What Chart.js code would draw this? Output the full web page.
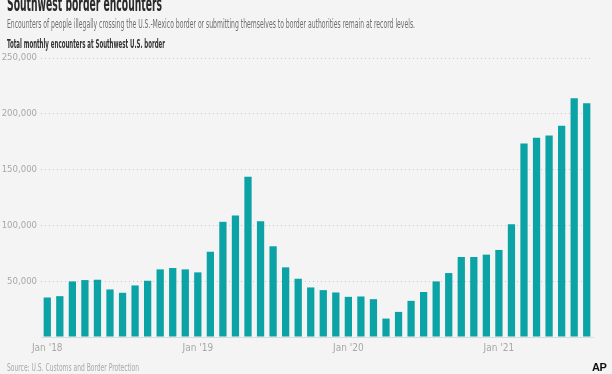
<!DOCTYPE html>
<html>
<head>
<meta charset="utf-8">
<script src="https://cdn.jsdelivr.net/npm/chart.js@4/dist/chart.umd.min.js"></script>
<style>
  html, body { margin: 0; padding: 0; background: #f4f4f4; }
  body { width: 612px; height: 374px; position: relative; overflow: hidden;
         font-family: 'Liberation Sans Narrow', 'DejaVu Sans Condensed', sans-serif; }
  #wrap { position: absolute; left: 0; top: 0; width: 612px; height: 374px; }
  .t { position: absolute; white-space: nowrap; transform-origin: 0 0; line-height: 1; }
  #title { left: 7px; top: -7px; font-size: 22px; font-weight: bold; color: #2a2a2a; }
  #sub { left: 7px; top: 18px; font-size: 12.5px; color: #6e6e6e; }
  #lab { left: 7px; top: 39px; font-size: 11.5px; font-weight: bold; color: #333; }
  #src { left: 7px; top: 363px; font-size: 10px; color: #a8a8a8; }
  #ap { left: 592px; top: 362px; font-size: 11px; font-weight: bold; color: #111;
        font-family: 'Liberation Sans', Arial, sans-serif; letter-spacing: -0.5px; }
</style>
</head>
<body>
<div id="wrap"><canvas id="c" width="612" height="374"></canvas></div>
<div class="t" id="title" data-w="155">Southwest border encounters</div>
<div class="t" id="sub" data-w="408">Encounters of people illegally crossing the U.S.-Mexico border or submitting themselves to border authorities remain at record levels.</div>
<div class="t" id="lab" data-w="158">Total monthly encounters at Southwest U.S. border</div>
<div class="t" id="src" data-w="132">Source: U.S. Customs and Border Protection</div>
<div class="t" id="ap">AP</div>
<script>
// Months: Jan 2018 .. Aug 2021
const months = [
  "Jan '18","Feb '18","Mar '18","Apr '18","May '18","Jun '18","Jul '18","Aug '18","Sep '18","Oct '18","Nov '18","Dec '18",
  "Jan '19","Feb '19","Mar '19","Apr '19","May '19","Jun '19","Jul '19","Aug '19","Sep '19","Oct '19","Nov '19","Dec '19",
  "Jan '20","Feb '20","Mar '20","Apr '20","May '20","Jun '20","Jul '20","Aug '20","Sep '20","Oct '20","Nov '20","Dec '20",
  "Jan '21","Feb '21","Mar '21","Apr '21","May '21","Jun '21","Jul '21","Aug '21"
];
// Total monthly encounters
const encounters = [
  35400, 36600, 49800, 51000, 51300, 42600, 39600, 46200, 50400, 60600, 61800, 60600,
  57900, 76500, 103200, 108900, 143700, 103800, 81300, 62400, 52200, 44400, 42000, 39900,
  36000, 36300, 33900, 16500, 22500, 32400, 40300, 49800, 57300, 71700, 71700, 73800,
  78000, 101100, 173400, 178500, 180600, 189300, 213900, 209400
];
const yTicks = [0, 50000, 100000, 150000, 200000, 250000];

// fit condensed headline widths
document.querySelectorAll('.t[data-w]').forEach(el => {
  const w = el.getBoundingClientRect().width;
  const target = parseFloat(el.dataset.w);
  el.style.transform = 'scaleX(' + (target / w) + ')';
});

const FONT = "'Liberation Sans Narrow', 'DejaVu Sans Condensed', sans-serif";

new Chart(document.getElementById('c'), {
  type: 'bar',
  data: {
    labels: months,
    datasets: [{
      data: encounters,
      backgroundColor: '#0ba3a6',
      borderWidth: 0,
      categoryPercentage: 1,
      barPercentage: 0.58
    }]
  },
  options: {
    responsive: false,
    animation: false,
    devicePixelRatio: 1,
    layout: { padding: { top: 58, right: 19, bottom: 0, left: 0 } },
    plugins: { legend: { display: false }, tooltip: { enabled: false }, title: { display: false } },
    scales: {
      x: {
        grid: { display: false, drawTicks: false },
        border: { display: true, color: '#d6dde0', width: 1 },
        ticks: {
          autoSkip: false, maxRotation: 0, minRotation: 0, padding: 5,
          color: '#a8a8a8', font: { family: FONT, size: 10 },
          callback: function (v, i) { const l = months[i]; return l.startsWith('Jan') ? l : ''; }
        },
        afterFit: s => { s.height = 37; }
      },
      y: {
        min: 0, max: 250000,
        afterBuildTicks: s => { s.ticks = yTicks.map(v => ({ value: v })); },
        grid: {
          drawTicks: false,
          color: ctx => ctx.tick && ctx.tick.value === 0 ? 'rgba(0,0,0,0)' : '#c8c8c8',
          lineWidth: 1
        },
        border: { display: false, dash: [1, 3] },
        ticks: {
          padding: 4, color: '#a8a8a8', font: { family: FONT, size: 9.5 },
          callback: v => v === 0 ? '' : v.toLocaleString('en-US')
        },
        afterFit: s => { s.width = 41; }
      }
    }
  }
});
</script>
</body>
</html>
